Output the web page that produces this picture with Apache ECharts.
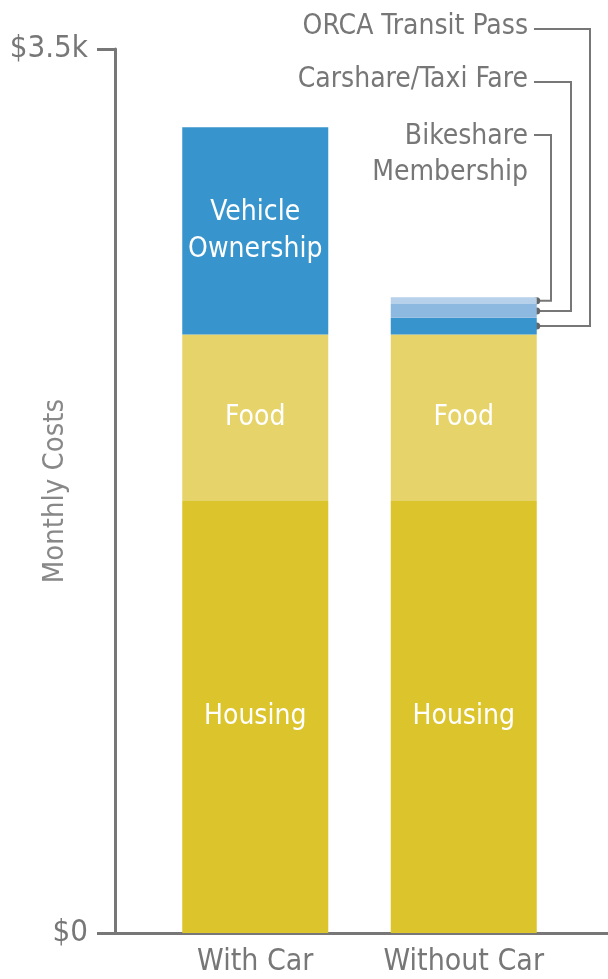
<!DOCTYPE html>
<html>
<head>
<meta charset="utf-8">
<script src="https://cdn.jsdelivr.net/npm/echarts@6/dist/echarts.min.js"></script>
<style>
html,body{margin:0;padding:0;background:#fff;}
#chart{width:608px;height:979px;}
</style>
</head>
<body>
<div id="chart"></div>
<script>
const categories = ['With Car', 'Without Car'];
const housing = [1710, 1710];
const food = [660, 660];
const vehicle = [820, '-'];
const orca = ['-', 66];
const carshare = ['-', 54];
const bikeshare = ['-', 27];
const yTickValues = [0, 3500];
const yTickLabels = ['$0', '$3.5k'];
const sideLabels = ['ORCA Transit Pass', 'Carshare/Taxi Fare', 'Bikeshare\nMembership'];

const FONT = "'Liberation Sans Narrow', 'DejaVu Sans Condensed', sans-serif";
const GRAY = '#777777';
const BAR_W = 146;

const chart = echarts.init(document.getElementById('chart'), null, {renderer: 'canvas'});

function segLabel(text, idxs) {
  return {
    show: true, position: 'inside', color: '#ffffff', fontFamily: FONT, fontSize: 28, lineHeight: 37,
    formatter: p => idxs.includes(p.dataIndex) ? text : ''
  };
}

const option = {
  animation: false,
  backgroundColor: '#ffffff',
  grid: [
    {left: 151, right: 40, top: 49, bottom: 46, outerBoundsMode: 'none', containLabel: false},
    {left: 115, right: 0, top: 49, bottom: 46, outerBoundsMode: 'none', containLabel: false}
  ],
  xAxis: [
    {
      type: 'category', gridIndex: 0, data: categories,
      axisLine: {show: false}, axisTick: {show: false},
      axisLabel: {color: GRAY, fontFamily: FONT, fontSize: 30, margin: 14, interval: 0, hideOverlap: false}
    },
    {
      type: 'value', gridIndex: 1, min: 0, max: 1,
      axisLine: {show: true, lineStyle: {color: GRAY, width: 3}},
      axisTick: {show: false}, axisLabel: {show: false}, splitLine: {show: false}
    }
  ],
  yAxis: [
    {
      type: 'value', gridIndex: 0, min: yTickValues[0], max: yTickValues[1], interval: yTickValues[1] - yTickValues[0],
      offset: 36,
      axisLine: {show: true, lineStyle: {color: GRAY, width: 3}},
      axisTick: {show: true, length: 18, lineStyle: {color: GRAY, width: 3}},
      splitLine: {show: false},
      axisLabel: {
        color: GRAY, fontFamily: FONT, fontSize: 31, margin: 27,
        formatter: v => yTickLabels[yTickValues.indexOf(v)] || ''
      },
      name: 'Monthly Costs', nameLocation: 'middle', nameGap: 45, nameRotate: 90, nameMoveOverlap: false,
      nameTextStyle: {color: '#888888', fontFamily: FONT, fontSize: 29}
    },
    {type: 'value', gridIndex: 1, show: false, min: 0, max: 1}
  ],
  series: [
    {name: 'Housing', type: 'bar', stack: 't', data: housing, barWidth: BAR_W,
      itemStyle: {color: '#DCC42C'}, label: segLabel('Housing', [0, 1])},
    {name: 'Food', type: 'bar', stack: 't', data: food, barWidth: BAR_W,
      itemStyle: {color: '#E6D46B'}, label: segLabel('Food', [0, 1])},
    {name: 'Vehicle Ownership', type: 'bar', stack: 't', data: vehicle, barWidth: BAR_W,
      itemStyle: {color: '#3794CC'}, label: segLabel('Vehicle\nOwnership', [0])},
    {name: 'ORCA Transit Pass', type: 'bar', stack: 't', data: orca, barWidth: BAR_W,
      itemStyle: {color: '#3794CC'}},
    {name: 'Carshare/Taxi Fare', type: 'bar', stack: 't', data: carshare, barWidth: BAR_W,
      itemStyle: {color: '#8DB8DF'}},
    {name: 'Bikeshare Membership', type: 'bar', stack: 't', data: bikeshare, barWidth: BAR_W,
      itemStyle: {color: '#B7D1EA'}}
  ]
};
chart.setOption(option);

// Leader lines from the small segments to their labels
const ci = 1;
const num = v => (typeof v === 'number' ? v : 0);
const base = num(housing[ci]) + num(food[ci]) + num(vehicle[ci]);
const segs = [orca, carshare, bikeshare];
let cum = base;
const mids = segs.map(s => { const m = cum + num(s[ci]) / 2; cum += num(s[ci]); return m; });
const labelY = [27, 80, 119];      // label positions (layout)
const lineY = [29, 82, 135];       // horizontal leader y (layout)
const elbowX = [590, 571, 551];    // elbow x (layout)
const labelRight = 528;
const graphics = [];
mids.forEach((m, i) => {
  const p = chart.convertToPixel({xAxisIndex: 0, yAxisIndex: 0}, [categories[ci], m]);
  const x0 = p[0] + BAR_W / 2;
  const y0 = p[1];
  graphics.push({
    type: 'polyline', silent: true,
    shape: {points: [[x0, y0], [elbowX[i], y0], [elbowX[i], lineY[i]], [labelRight + 6, lineY[i]]]},
    style: {stroke: GRAY, lineWidth: 2, fill: null}
  });
  graphics.push({
    type: 'circle', silent: true, shape: {cx: x0, cy: y0, r: 3.5},
    style: {fill: '#666666'}
  });
  graphics.push({
    type: 'text', silent: true, x: labelRight, y: labelY[i],
    style: {text: sideLabels[i], fill: GRAY, font: '28px ' + FONT, align: 'right',
      verticalAlign: i === 2 ? 'top' : 'middle', lineHeight: 36}
  });
});
chart.setOption({graphic: graphics});
</script>
</body>
</html>
